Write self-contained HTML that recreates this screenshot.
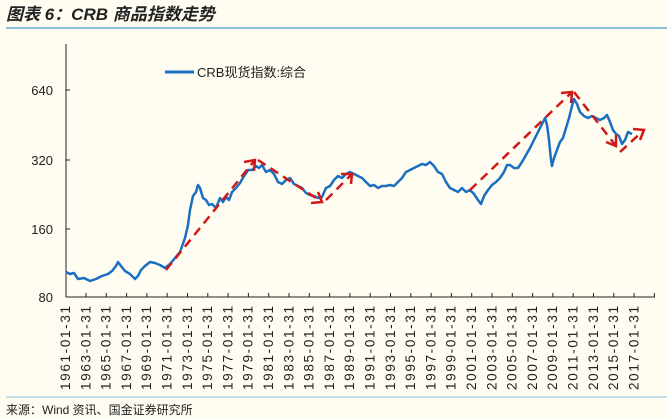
<!DOCTYPE html>
<html><head><meta charset="utf-8"><style>
body{margin:0;background:#fffcf2;}
svg{display:block;font-family:"Liberation Sans","Noto Sans CJK SC",sans-serif;}
</style></head><body>
<svg width="667" height="419" viewBox="0 0 667 419" xmlns="http://www.w3.org/2000/svg">
<rect width="667" height="419" fill="#fffcf2"/>
<text x="6" y="20" font-size="17" font-weight="bold" font-style="italic" fill="#222">图表 6：CRB 商品指数走势</text>
<line x1="6" y1="28" x2="667" y2="28" stroke="#8bbfd8" stroke-width="2"/>
<line x1="6" y1="397" x2="667" y2="397" stroke="#8bbfd8" stroke-width="1"/>
<text x="6" y="414" font-size="12" fill="#222">来源：Wind 资讯、国金证券研究所</text>
<line x1="66" y1="44" x2="66" y2="297" stroke="#222"/>
<line x1="66" y1="297" x2="655" y2="297" stroke="#222"/>
<g font-size="13" fill="#222" text-anchor="end">
<text x="53" y="95">640</text><text x="53" y="165">320</text><text x="53" y="234">160</text><text x="53" y="302">80</text>
</g>
<g stroke="#222"><line x1="66" y1="90" x2="70" y2="90"/><line x1="66" y1="160" x2="70" y2="160"/><line x1="66" y1="229" x2="70" y2="229"/>
<path d="M86 297v-4M106.3 297v-4M126.6 297v-4M146.9 297v-4M167.2 297v-4M187.5 297v-4M207.8 297v-4M228.1 297v-4M248.4 297v-4M268.7 297v-4M289 297v-4M309.3 297v-4M329.6 297v-4M349.9 297v-4M370.2 297v-4M390.5 297v-4M410.8 297v-4M431.1 297v-4M451.4 297v-4M471.7 297v-4M492 297v-4M512.3 297v-4M532.6 297v-4M552.9 297v-4M573.2 297v-4M593.5 297v-4M613.8 297v-4M634.1 297v-4M654.4 297v-4"/>
</g>
<g font-size="13.5" fill="#222" text-anchor="end">
<text transform="translate(70,306) rotate(-90)" textLength="84" lengthAdjust="spacing">1961-01-31</text>
<text transform="translate(90.3,306) rotate(-90)" textLength="84" lengthAdjust="spacing">1963-01-31</text>
<text transform="translate(110.6,306) rotate(-90)" textLength="84" lengthAdjust="spacing">1965-01-31</text>
<text transform="translate(130.9,306) rotate(-90)" textLength="84" lengthAdjust="spacing">1967-01-31</text>
<text transform="translate(151.2,306) rotate(-90)" textLength="84" lengthAdjust="spacing">1969-01-31</text>
<text transform="translate(171.5,306) rotate(-90)" textLength="84" lengthAdjust="spacing">1971-01-31</text>
<text transform="translate(191.8,306) rotate(-90)" textLength="84" lengthAdjust="spacing">1973-01-31</text>
<text transform="translate(212.1,306) rotate(-90)" textLength="84" lengthAdjust="spacing">1975-01-31</text>
<text transform="translate(232.4,306) rotate(-90)" textLength="84" lengthAdjust="spacing">1977-01-31</text>
<text transform="translate(252.7,306) rotate(-90)" textLength="84" lengthAdjust="spacing">1979-01-31</text>
<text transform="translate(273,306) rotate(-90)" textLength="84" lengthAdjust="spacing">1981-01-31</text>
<text transform="translate(293.3,306) rotate(-90)" textLength="84" lengthAdjust="spacing">1983-01-31</text>
<text transform="translate(313.6,306) rotate(-90)" textLength="84" lengthAdjust="spacing">1985-01-31</text>
<text transform="translate(333.9,306) rotate(-90)" textLength="84" lengthAdjust="spacing">1987-01-31</text>
<text transform="translate(354.2,306) rotate(-90)" textLength="84" lengthAdjust="spacing">1989-01-31</text>
<text transform="translate(374.5,306) rotate(-90)" textLength="84" lengthAdjust="spacing">1991-01-31</text>
<text transform="translate(394.8,306) rotate(-90)" textLength="84" lengthAdjust="spacing">1993-01-31</text>
<text transform="translate(415.1,306) rotate(-90)" textLength="84" lengthAdjust="spacing">1995-01-31</text>
<text transform="translate(435.4,306) rotate(-90)" textLength="84" lengthAdjust="spacing">1997-01-31</text>
<text transform="translate(455.7,306) rotate(-90)" textLength="84" lengthAdjust="spacing">1999-01-31</text>
<text transform="translate(476,306) rotate(-90)" textLength="84" lengthAdjust="spacing">2001-01-31</text>
<text transform="translate(496.3,306) rotate(-90)" textLength="84" lengthAdjust="spacing">2003-01-31</text>
<text transform="translate(516.6,306) rotate(-90)" textLength="84" lengthAdjust="spacing">2005-01-31</text>
<text transform="translate(536.9,306) rotate(-90)" textLength="84" lengthAdjust="spacing">2007-01-31</text>
<text transform="translate(557.2,306) rotate(-90)" textLength="84" lengthAdjust="spacing">2009-01-31</text>
<text transform="translate(577.5,306) rotate(-90)" textLength="84" lengthAdjust="spacing">2011-01-31</text>
<text transform="translate(597.8,306) rotate(-90)" textLength="84" lengthAdjust="spacing">2013-01-31</text>
<text transform="translate(618.1,306) rotate(-90)" textLength="84" lengthAdjust="spacing">2015-01-31</text>
<text transform="translate(638.4,306) rotate(-90)" textLength="84" lengthAdjust="spacing">2017-01-31</text>
</g>
<polyline fill="none" stroke="#1a6fc0" stroke-width="2.5" stroke-linejoin="round" points="66,272 70,274 74,273 78,279 84,278 90,281 96,279 102,276 108,274 112,271 116,266 118,262 121,266 125,271 130,274 135,279 138,276 141,270 145,266 150,262 155,263 160,265 165,268 170,264 175,258 180,252 185,238 188,225 190,210 193,196 196,192 198,185 200,188 203,198 206,200 209,205 212,204 216,208 220,198 223,202 226,197 229,200 232,192 236,188 240,183 244,176 248,170 252,170 256,166 259,168 262,165 266,172 270,170 274,174 278,182 282,184 286,180 290,178 294,184 298,186 302,188 306,193 310,195 314,196 318,198 322,197 326,188 330,186 334,180 338,176 342,178 346,174 350,172 354,174 358,176 362,178 366,182 370,186 374,185 378,188 382,186 386,186 390,185 394,186 398,182 402,178 406,172 410,170 414,168 418,166 422,164 426,165 430,162 434,166 438,172 442,174 446,182 450,188 454,190 458,192 462,188 466,192 470,190 474,194 478,200 481,204 484,196 488,190 492,185 496,182 500,178 504,172 507,165 510,165 514,168 518,168 522,162 526,155 530,148 534,140 538,132 542,124 545,118 547,125 549,140 551,160 552,166 554,158 557,150 560,142 563,138 566,128 569,118 572,106 574,99 577,104 580,112 584,116 588,118 592,116 596,118 600,120 604,118 607,115 610,122 613,130 616,134 619,136 622,144 625,140 628,132 632,134"/>
<g stroke="#d01818" stroke-width="2.5" fill="none" stroke-dasharray="9,6">
<line x1="166" y1="270" x2="255" y2="160"/><line x1="258" y1="160" x2="322" y2="202"/><line x1="326" y1="200" x2="352" y2="174"/>
<line x1="470" y1="190" x2="572" y2="92"/><line x1="574" y1="92" x2="616" y2="146"/><line x1="620" y1="152" x2="644" y2="130"/>
</g>
<g stroke="#d01818" stroke-width="2.5" fill="none">
<polyline points="244,162 255,160 254,171"/><polyline points="311,203 322,202 318,192"/><polyline points="341,174 352,174 351,184"/>
<polyline points="561,93 572,92 571,103"/><polyline points="616,135 616,146 606,142"/><polyline points="633,129 644,130 640,140"/>
</g>
<line x1="165" y1="72" x2="194" y2="72" stroke="#1a6fc0" stroke-width="3"/>
<text x="197" y="77" font-size="13" fill="#222">CRB现货指数:综合</text>
</svg>
</body></html>
